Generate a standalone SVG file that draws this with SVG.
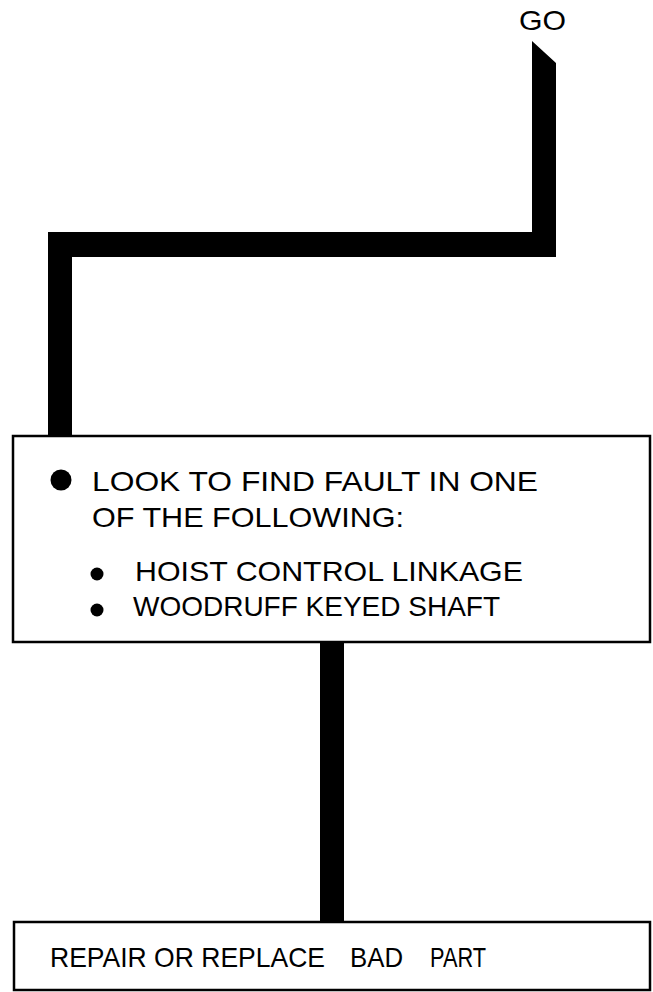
<svg xmlns="http://www.w3.org/2000/svg" width="653" height="992" viewBox="0 0 653 992">
<style>
.box{fill:#fff;stroke:#000;stroke-width:2.5}
.t{font-family:"Liberation Sans",Arial,sans-serif;font-size:28px;fill:#000}
.c{fill:#000}
</style>
<rect width="653" height="992" fill="#fff"/>
<g id="connectors">
<polygon class="c" points="532,41 556,63 556,257 72,257 72,436 48,436 48,232 532,232"/>
<rect class="c" x="320" y="640" width="24" height="284"/>
</g>
<g id="start">
<text class="t" x="519" y="30" font-size="25" textLength="47" lengthAdjust="spacingAndGlyphs">GO</text>
</g>
<g id="node-look">
<rect class="box" x="13" y="436" width="637" height="206"/>
<circle class="c" cx="61" cy="480" r="10.5"/>
<text class="t" x="92" y="491" textLength="446" lengthAdjust="spacingAndGlyphs">LOOK TO FIND FAULT IN ONE</text>
<text class="t" x="92" y="527" textLength="312" lengthAdjust="spacingAndGlyphs">OF THE FOLLOWING:</text>
<circle class="c" cx="97" cy="574" r="6.5"/>
<text class="t" x="135" y="581" textLength="388" lengthAdjust="spacingAndGlyphs">HOIST CONTROL LINKAGE</text>
<circle class="c" cx="97" cy="610" r="6.5"/>
<text class="t" x="133" y="616" textLength="367" lengthAdjust="spacingAndGlyphs">WOODRUFF KEYED SHAFT</text>
</g>
<g id="node-repair">
<rect class="box" x="14" y="922" width="636" height="68"/>
<text class="t" x="50" y="967" textLength="275" lengthAdjust="spacingAndGlyphs">REPAIR OR REPLACE</text>
<text class="t" x="350" y="967" textLength="53" lengthAdjust="spacingAndGlyphs">BAD</text>
<text class="t" x="430" y="967" textLength="56" lengthAdjust="spacingAndGlyphs">PART</text>
</g>
</svg>
